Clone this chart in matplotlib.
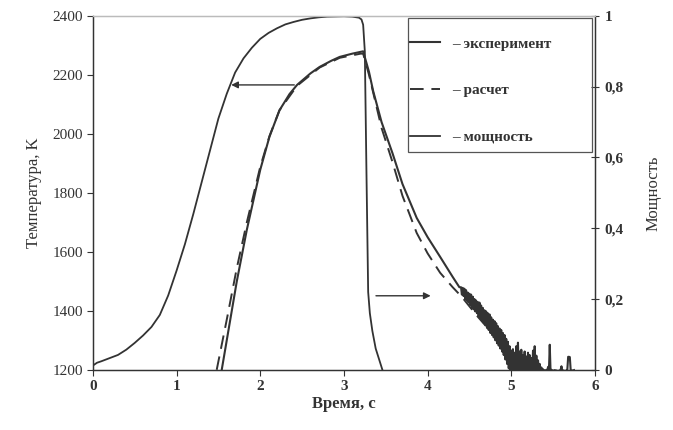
import numpy as np
import matplotlib
matplotlib.use("Agg")
import matplotlib.pyplot as plt
from matplotlib.patches import Rectangle
from matplotlib.ticker import FuncFormatter

plt.rcParams["font.family"] = ["Liberation Serif", "DejaVu Serif"]

# heating power (relative units, right axis)
t_pow = [0.0, 0.05, 0.1, 0.2, 0.3, 0.4, 0.5, 0.6, 0.7, 0.8, 0.9, 1.0, 1.1, 1.2,
         1.3, 1.4, 1.5, 1.6, 1.7, 1.8, 1.9, 2.0, 2.1, 2.2, 2.3, 2.4, 2.5, 2.6,
         2.7, 2.8, 3.0, 3.1, 3.18, 3.21, 3.23, 3.25, 3.27, 3.29, 3.31, 3.34,
         3.38, 3.42, 3.46]
power = [0.012, 0.02, 0.024, 0.033, 0.042, 0.057, 0.076, 0.097, 0.121, 0.155,
         0.21, 0.28, 0.355, 0.44, 0.53, 0.62, 0.71, 0.78, 0.84, 0.88, 0.91,
         0.935, 0.952, 0.965, 0.976, 0.983, 0.989, 0.993, 0.996, 0.998, 0.999,
         0.998, 0.995, 0.99, 0.975, 0.90, 0.55, 0.22, 0.16, 0.11, 0.06, 0.03, 0.0]

# measured temperature, smooth part
t_exp = [1.54, 1.6, 1.72, 1.84, 2.0, 2.11, 2.23, 2.35, 2.44, 2.6, 2.71, 2.85,
         2.95, 3.1, 3.23, 3.3, 3.35, 3.45, 3.58, 3.7, 3.87, 4.0, 4.15, 4.3, 4.38]
T_exp = [1200, 1300, 1500, 1675, 1878, 1990, 2080, 2135, 2166, 2205, 2227, 2248,
         2261, 2272, 2280, 2210, 2145, 2040, 1935, 1830, 1715, 1650, 1583, 1515, 1480]

# measured temperature, noisy tail sampled every 0.01 s from 4.40 s
t_tail = np.round(np.arange(440, 576) / 100, 2)
T_tail = [1480, 1455, 1478, 1450, 1475, 1440, 1470, 1435, 1462, 1428,
          1458, 1420, 1455, 1412, 1448, 1405, 1440, 1398, 1435, 1392,
          1430, 1382, 1428, 1375, 1418, 1368, 1410, 1360, 1402, 1352,
          1398, 1342, 1392, 1335, 1388, 1325, 1378, 1318, 1370, 1310,
          1365, 1300, 1358, 1290, 1348, 1282, 1340, 1272, 1335, 1262,
          1325, 1250, 1318, 1235, 1305, 1220, 1295, 1205, 1280, 1195,
          1265, 1190, 1270, 1188, 1258, 1192, 1280, 1188, 1292, 1190,
          1262, 1188, 1268, 1192, 1250, 1188, 1262, 1190, 1245, 1188,
          1258, 1190, 1250, 1192, 1240, 1188, 1265, 1190, 1280, 1188,
          1248, 1190, 1232, 1192, 1220, 1190, 1208, 1192, 1202, 1195,
          1198, 1192, 1200, 1195, 1210, 1195, 1285, 1192, 1200, 1195,
          1198, 1194, 1199, 1195, 1198, 1194, 1197, 1195, 1198, 1200,
          1212, 1196, 1198, 1195, 1197, 1195, 1198, 1200, 1244, 1244,
          1243, 1200, 1198, 1196, 1198, 1199]

# calculated temperature
t_calc = [1.48, 1.6, 1.72, 1.84, 2.0, 2.11, 2.23, 2.44, 2.71, 2.95, 3.2, 3.23,
          3.3, 3.35, 3.45, 3.58, 3.7, 3.87, 4.0, 4.15, 4.3, 4.41, 4.6, 4.8, 5.0, 5.2]
T_calc = [1200, 1370, 1545, 1700, 1888, 1992, 2080, 2163, 2225, 2258, 2272, 2272,
          2200, 2140, 2020, 1905, 1790, 1664, 1595, 1529, 1480, 1447, 1380, 1315,
          1255, 1205]

labels = ["– эксперимент", "– расчет", "– мощность"]
col = "#333333"

fig, ax = plt.subplots(figsize=(6.73, 4.3), dpi=100)
fig.subplots_adjust(left=0.138, right=0.884, bottom=0.14, top=0.963)
ax2 = ax.twinx()

t_all = list(t_exp) + list(t_tail)
T_all = list(T_exp) + list(T_tail)
l1, = ax.plot(t_all, T_all, color=col, lw=1.5)
l2, = ax.plot(t_calc, T_calc, color=col, lw=1.4, ls=(0, (7, 4)))
l3, = ax2.plot(t_pow, power, color=col, lw=1.3)

ax.set_xlim(0, 6)
ax.set_ylim(1200, 2400)
ax2.set_ylim(0, 1)
ax.set_xticks(range(7))
ax.set_yticks(range(1200, 2401, 200))
ax2.set_yticks([0, 0.2, 0.4, 0.6, 0.8, 1.0])
ax2.yaxis.set_major_formatter(FuncFormatter(lambda v, _: f"{v:g}".replace(".", ",")))

for a in (ax, ax2):
    a.tick_params(labelsize=11, colors=col, width=0.8, length=4)
    for s in a.spines.values():
        s.set_color(col)
        s.set_linewidth(0.9)
    a.spines["top"].set_color("#bbbbbb")
ax.tick_params(axis="y", direction="out", pad=3)
ax2.tick_params(axis="y", direction="inout", length=6, pad=4)
for lab in ax.get_xticklabels() + ax2.get_yticklabels():
    lab.set_fontweight("bold")

ax.set_xlabel("Время, с", fontsize=12, color=col, labelpad=2, fontweight="bold")
ax.set_ylabel("Температура, K", fontsize=12, color=col, labelpad=8)
ax2.set_ylabel("Мощность", fontsize=12, color=col, labelpad=16)

# arrows pointing to the axis each curve belongs to
arrow = dict(arrowstyle="-|>", color=col, lw=1.0, mutation_scale=10)
ax.annotate("", xy=(1.62, 2166), xytext=(2.44, 2166), arrowprops=arrow)
ax.annotate("", xy=(4.07, 1451), xytext=(3.35, 1451), arrowprops=arrow)

ax2.add_patch(Rectangle((0.627, 0.616), 0.367, 0.378, transform=ax2.transAxes,
                        fill=False, edgecolor="#555555", lw=0.9, zorder=5))
ax2.legend([l1, l2, l3], labels, loc="upper left", bbox_to_anchor=(0.631, 0.94),
           frameon=False, prop={"size": 11, "weight": "bold"}, handlelength=2.0,
           handletextpad=0.8, labelspacing=2.15, borderpad=0, borderaxespad=0,
           labelcolor=col)

plt.savefig("out.png", dpi=100)
plt.close()
